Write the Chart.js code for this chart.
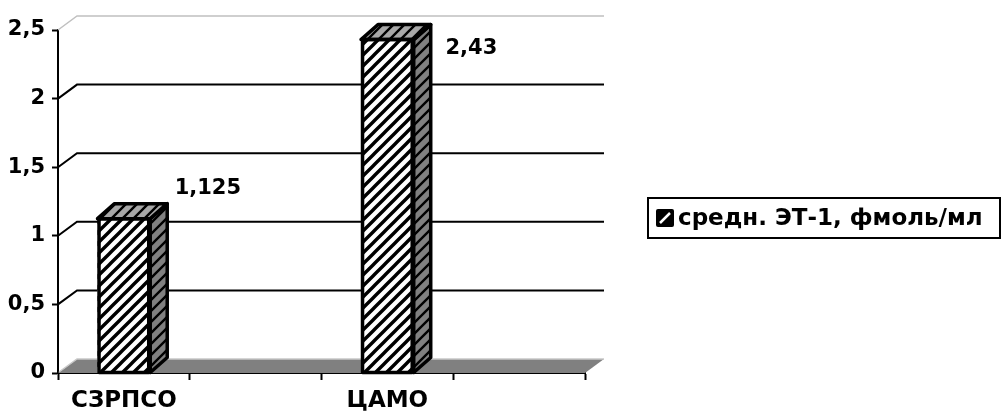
<!DOCTYPE html>
<html>
<head>
<meta charset="utf-8">
<script src="https://cdn.jsdelivr.net/npm/chart.js@4.4.1/dist/chart.umd.min.js"></script>
<style>
  html, body { margin: 0; padding: 0; background: #ffffff; }
  #wrap { width: 1002px; height: 412px; }
</style>
</head>
<body>
<div id="wrap"><canvas id="chart" width="1002" height="412"></canvas></div>
<script>
// Categories (blank slots keep the axis tick spacing of the source sheet)
const categories = ['СЗРПСО', '', 'ЦАМО', ''];
// Mean ET-1, fmol/ml
const values = [1.125, null, 2.43, null];
const yTickLabels = ['0', '0,5', '1', '1,5', '2', '2,5'];
const seriesName = 'средн. ЭТ-1, фмоль/мл';

const FONT = 'DejaVu Sans';
const WALL = { dx: 19, dy: -14 };   // depth of back wall / floor
const BAR = { dx: 17, dy: -15 };    // depth of each column

function hatch(bg, line, size, lw) {
  const c = document.createElement('canvas');
  c.width = size; c.height = size;
  const g = c.getContext('2d');
  g.fillStyle = bg;
  g.fillRect(0, 0, size, size);
  g.strokeStyle = line;
  g.lineWidth = lw;
  g.beginPath();
  g.moveTo(-1, size + 1); g.lineTo(size + 1, -1);
  g.moveTo(-3, 3); g.lineTo(3, -3);
  g.moveTo(size - 3, size + 3); g.lineTo(size + 3, size - 3);
  g.stroke();
  return c;
}

const ctx0 = document.getElementById('chart').getContext('2d');
const frontFill = ctx0.createPattern(hatch('#ffffff', '#000000', 11, 3.4), 'repeat');
const sideFill = ctx0.createPattern(hatch('#808080', '#000000', 11, 2.4), 'repeat');
const topFill = ctx0.createPattern(hatch('#a8a8a8', '#000000', 11, 2.4), 'repeat');

const fmt = v => String(v).replace('.', ',');

// Back wall, gridlines and floor of the 3-D plot box
const wallPlugin = {
  id: 'wall',
  beforeDatasetsDraw(chart) {
    const { ctx, chartArea: a, scales: { y } } = chart;
    ctx.save();
    // floor
    const y0 = y.getPixelForValue(0);
    ctx.fillStyle = '#808080';
    ctx.beginPath();
    ctx.moveTo(a.left, y0);
    ctx.lineTo(a.right, y0);
    ctx.lineTo(a.right + WALL.dx, y0 + WALL.dy);
    ctx.lineTo(a.left + WALL.dx, y0 + WALL.dy);
    ctx.closePath();
    ctx.fill();
    ctx.strokeStyle = '#c8c8c8';
    ctx.lineWidth = 1.5;
    ctx.beginPath();
    ctx.moveTo(a.left + 1, y0 - 1);
    ctx.lineTo(a.left + WALL.dx, y0 + WALL.dy);
    ctx.lineTo(a.right + WALL.dx, y0 + WALL.dy);
    ctx.stroke();
    // gridlines on the back wall
    y.ticks.forEach(t => {
      if (t.value === 0) return;
      const py = y.getPixelForValue(t.value);
      const top = t.value === y.max;
      ctx.strokeStyle = top ? '#c0c0c0' : '#000000';
      ctx.lineWidth = top ? 1.5 : 2;
      ctx.beginPath();
      ctx.moveTo(a.left, py);
      ctx.lineTo(a.left + WALL.dx, py + WALL.dy);
      ctx.lineTo(a.right + WALL.dx, py + WALL.dy);
      ctx.stroke();
    });
    ctx.restore();
  },
  afterDatasetsDraw(chart) {
    const { ctx, chartArea: a } = chart;
    const meta = chart.getDatasetMeta(0);
    ctx.save();
    ctx.lineWidth = 3.5;
    ctx.lineJoin = 'round';
    ctx.strokeStyle = '#000000';
    meta.data.forEach((bar, i) => {
      const v = values[i];
      if (v === null || v === undefined) return;
      const { x, y, base, width } = bar.getProps(['x', 'y', 'base', 'width'], true);
      const l = x - width / 2, r = x + width / 2;
      // side face
      ctx.fillStyle = sideFill;
      ctx.beginPath();
      ctx.moveTo(r, y);
      ctx.lineTo(r + BAR.dx, y + BAR.dy);
      ctx.lineTo(r + BAR.dx, base + BAR.dy);
      ctx.lineTo(r, base);
      ctx.closePath();
      ctx.fill();
      ctx.stroke();
      // top face
      ctx.fillStyle = topFill;
      ctx.beginPath();
      ctx.moveTo(l, y);
      ctx.lineTo(l + BAR.dx, y + BAR.dy);
      ctx.lineTo(r + BAR.dx, y + BAR.dy);
      ctx.lineTo(r, y);
      ctx.closePath();
      ctx.fill();
      ctx.stroke();
      // front outline
      ctx.strokeRect(l + 1.5, y, width - 3, base - y);
      // value label
      ctx.fillStyle = '#000000';
      ctx.font = 'bold 21px "' + FONT + '"';
      ctx.textAlign = 'center';
      ctx.textBaseline = 'middle';
      const ly = Math.max(y - 30, a.top + 19);
      ctx.fillText(fmt(v), x + 84, ly);
    });
    ctx.restore();
  },
  afterDraw(chart) {
    // legend box
    const { ctx } = chart;
    ctx.save();
    const bx = 648, by = 198, bw = 352, bh = 40;
    ctx.fillStyle = '#ffffff';
    ctx.fillRect(bx, by, bw, bh);
    ctx.strokeStyle = '#000000';
    ctx.lineWidth = 2;
    ctx.strokeRect(bx, by, bw, bh);
    // legend key
    const kx = 656, ky = 209, ks = 18;
    ctx.fillStyle = '#000000';
    ctx.beginPath();
    ctx.roundRect(kx, ky, ks, ks, 2);
    ctx.fill();
    ctx.strokeStyle = '#ffffff';
    ctx.lineWidth = 2.5;
    ctx.beginPath();
    ctx.moveTo(kx + 4, ky + ks - 4);
    ctx.lineTo(kx + ks - 4, ky + 4);
    ctx.stroke();
    ctx.fillStyle = '#000000';
    ctx.font = 'bold 23px "' + FONT + '"';
    ctx.textAlign = 'left';
    ctx.textBaseline = 'middle';
    ctx.fillText(chart.data.datasets[0].label, 678, ky + ks / 2 + 1);
    ctx.restore();
  }
};

new Chart(ctx0, {
  type: 'bar',
  data: {
    labels: categories,
    datasets: [{
      label: seriesName,
      data: values,
      backgroundColor: frontFill,
      borderColor: 'rgba(0,0,0,0)',
      borderWidth: 0,
      barPercentage: 0.4,
      categoryPercentage: 1.0
    }]
  },
  options: {
    responsive: false,
    animation: false,
    devicePixelRatio: 1,
    layout: { padding: { left: 0, top: 30, right: 417, bottom: 0 } },
    plugins: {
      legend: { display: false },
      tooltip: { enabled: false }
    },
    scales: {
      x: {
        offset: true,
        grid: {
          offset: true,
          drawOnChartArea: false,
          drawTicks: true,
          tickLength: 7,
          tickWidth: 2,
          tickColor: '#000000'
        },
        border: { display: true, color: '#000000', width: 2 },
        ticks: {
          autoSkip: false,
          maxRotation: 0,
          padding: 7,
          color: '#000000',
          font: { family: FONT, weight: 'bold', size: 23 }
        },
        afterFit(scale) { scale.height = 39; }
      },
      y: {
        min: 0,
        max: 2.5,
        grid: {
          drawOnChartArea: false,
          drawTicks: true,
          tickLength: 6,
          tickWidth: 2,
          tickColor: '#000000'
        },
        border: { display: true, color: '#000000', width: 2 },
        ticks: {
          stepSize: 0.5,
          padding: 7,
          color: '#000000',
          font: { family: FONT, weight: 'bold', size: 21 },
          callback: (v, i) => yTickLabels[i]
        },
        afterFit(scale) { scale.width = 58; }
      }
    }
  },
  plugins: [wallPlugin]
});
</script>
</body>
</html>
